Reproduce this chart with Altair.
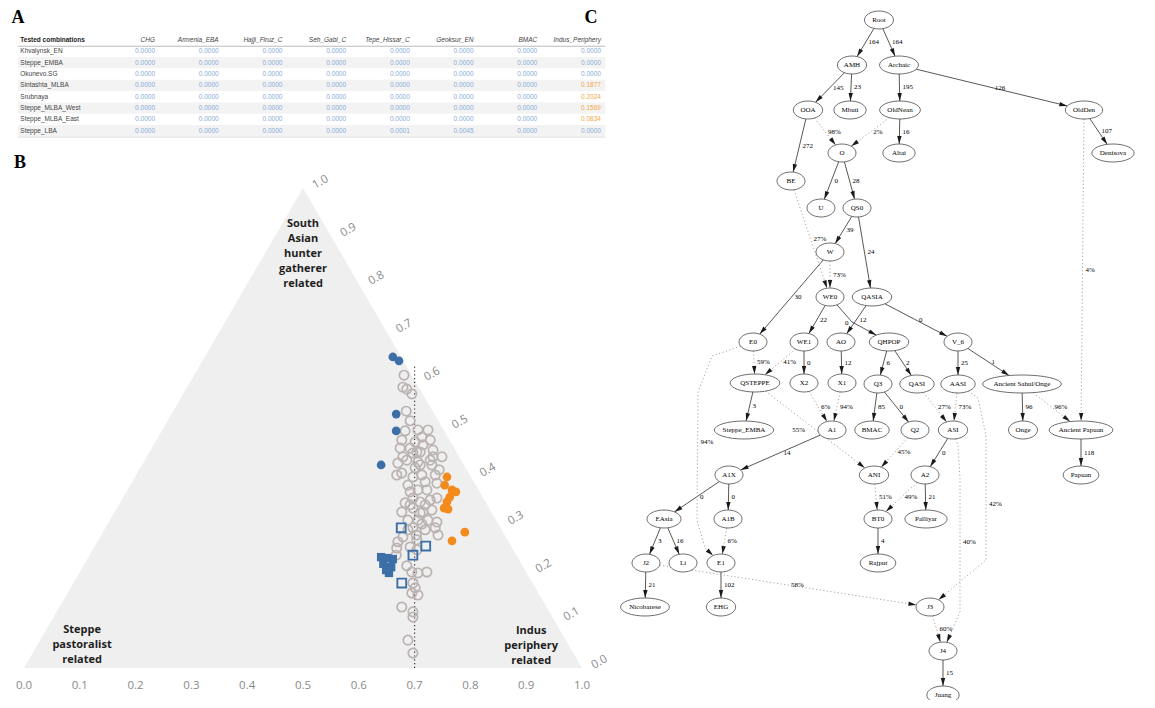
import math
import altair as alt
import pandas as pd

W, H = 1139, 692  # whole chart area (page margin 8px)

# ---------------- Panel A : table ----------------
tested = ["Khvalynsk_EN", "Steppe_EMBA", "Okunevo.SG", "Sintashta_MLBA", "Srubnaya",
          "Steppe_MLBA_West", "Steppe_MLBA_East", "Steppe_LBA"]
sources = ["CHG", "Armenia_EBA", "Hajji_Firuz_C", "Seh_Gabi_C", "Tepe_Hissar_C",
           "Geoksur_EN", "BMAC", "Indus_Periphery"]
v_chg = [0.0000, 0.0000, 0.0000, 0.0000, 0.0000, 0.0000, 0.0000, 0.0000]
v_armenia = [0.0000, 0.0000, 0.0000, 0.0000, 0.0000, 0.0000, 0.0000, 0.0000]
v_hajji = [0.0000, 0.0000, 0.0000, 0.0000, 0.0000, 0.0000, 0.0000, 0.0000]
v_sehgabi = [0.0000, 0.0000, 0.0000, 0.0000, 0.0000, 0.0000, 0.0000, 0.0000]
v_tepe = [0.0000, 0.0000, 0.0000, 0.0000, 0.0000, 0.0000, 0.0000, 0.0001]
v_geoksur = [0.0000, 0.0000, 0.0000, 0.0000, 0.0000, 0.0000, 0.0000, 0.0045]
v_bmac = [0.0000, 0.0000, 0.0000, 0.0000, 0.0000, 0.0000, 0.0000, 0.0000]
v_indus = [0.0000, 0.0000, 0.0000, 0.1877, 0.2024, 0.1569, 0.0834, 0.0000]
table_values = [v_chg, v_armenia, v_hajji, v_sehgabi, v_tepe, v_geoksur, v_bmac, v_indus]

# ---------------- Panel B : ternary plot ----------------
# x = position on the bottom axis, sahg = South Asian hunter gatherer fraction (right axis)
gray_x = [0.681, 0.679, 0.686, 0.695, 0.685, 0.692, 0.683, 0.677, 0.706, 0.724,
          0.713, 0.728, 0.701, 0.715, 0.674, 0.692, 0.704, 0.733, 0.749, 0.679,
          0.697, 0.710, 0.733, 0.686, 0.706, 0.731, 0.668, 0.677, 0.697, 0.713,
          0.737, 0.740, 0.688, 0.692, 0.706, 0.722, 0.697, 0.683, 0.710, 0.728,
          0.740, 0.677, 0.697, 0.715, 0.731, 0.688, 0.706, 0.724, 0.740, 0.697,
          0.719, 0.737, 0.679, 0.704, 0.742, 0.668, 0.692, 0.670, 0.686, 0.695,
          0.706, 0.722, 0.697, 0.701, 0.706, 0.695, 0.677, 0.697, 0.697, 0.688,
          0.697, 0.667, 0.704, 0.710, 0.719, 0.701, 0.719, 0.688, 0.710, 0.728,
          0.670, 0.692, 0.744, 0.713, 0.703]
gray_sahg = [0.610, 0.585, 0.581, 0.571, 0.535, 0.515, 0.494, 0.475, 0.496, 0.496,
             0.481, 0.475, 0.471, 0.465, 0.458, 0.458, 0.450, 0.454, 0.440, 0.440,
             0.448, 0.450, 0.440, 0.433, 0.429, 0.423, 0.402, 0.406, 0.398, 0.402,
             0.402, 0.385, 0.381, 0.367, 0.371, 0.371, 0.354, 0.344, 0.346, 0.350,
             0.354, 0.325, 0.333, 0.325, 0.329, 0.308, 0.308, 0.308, 0.304, 0.292,
             0.288, 0.292, 0.273, 0.267, 0.277, 0.250, 0.252, 0.263, 0.213, 0.200,
             0.198, 0.200, 0.177, 0.167, 0.152, 0.156, 0.127, 0.117, 0.106, 0.058,
             0.031, 0.235, 0.246, 0.423, 0.388, 0.417, 0.340, 0.288, 0.323, 0.433,
             0.427, 0.340, 0.413, 0.300, 0.277]
blue_dot_x = [0.661, 0.672, 0.667, 0.667, 0.640]
blue_dot_sahg = [0.648, 0.640, 0.529, 0.494, 0.423]
orange_x = [0.758, 0.754, 0.767, 0.774, 0.763, 0.758, 0.753, 0.760, 0.767, 0.790]
orange_sahg = [0.398, 0.381, 0.371, 0.367, 0.356, 0.346, 0.333, 0.331, 0.265, 0.283]
open_sq_x = [0.676, 0.720, 0.697, 0.677]
open_sq_sahg = [0.292, 0.254, 0.235, 0.177]
filled_sq_x = [0.640, 0.651, 0.661, 0.644, 0.649, 0.658, 0.654]
filled_sq_sahg = [0.231, 0.229, 0.227, 0.217, 0.204, 0.210, 0.198]
axis_ticks = [0.0, 0.1, 0.2, 0.3, 0.4, 0.5, 0.6, 0.7, 0.8, 0.9, 1.0]
corner_labels = ["South\nAsian\nhunter\ngatherer\nrelated",
                 "Steppe\npastoralist\nrelated",
                 "Indus\nperiphery\nrelated"]

# ---------------- Panel C : admixture graph ----------------
node_names = ["Root", "AMH", "Archaic", "OOA", "Mbuti", "OldNean", "OldDen", "O",
              "Altai", "Denisova", "BE", "U", "QS0", "W", "WE0", "QASIA", "E0", "WE1",
              "AO", "QHPOP", "V_6", "QSTEPPE", "X2", "X1", "Q3", "QASI", "AASI",
              "Ancient Sahul/Onge", "Steppe_EMBA", "A1", "BMAC", "Q2", "ASI", "Onge",
              "Ancient Papuan", "A1X", "ANI", "A2", "Papuan", "EAsia", "A1B", "BT0",
              "Palliyar", "J2", "Li", "E1", "Rajput", "Nicobarese", "EHG", "J3", "J4",
              "Juang"]
# graph layout (position of each node, in page pixels)
node_layout_x = [879, 852, 899, 808, 850, 900, 1084, 842, 899, 1113, 791, 821, 857,
                 830, 830, 872, 753, 804, 841, 889, 958, 755, 804, 842, 878, 917, 958,
                 1022, 744, 832, 872, 915, 953, 1023, 1081, 729, 874, 925, 1081, 664,
                 728, 878, 926, 646, 683, 721, 878, 645, 721, 930, 943, 943]
node_layout_y = [20, 65, 65, 110, 110, 110, 110, 153, 153, 153, 181, 208, 208, 252,
                 297, 297, 342, 342, 342, 342, 342, 383, 383, 383, 384, 384, 384, 384,
                 430, 430, 430, 430, 430, 430, 430, 475, 475, 475, 475, 519, 519, 519,
                 519, 563, 563, 563, 563, 607, 607, 607, 651, 695]
edge_from = ["Root", "Root", "AMH", "AMH", "Archaic", "Archaic", "OldNean", "OldDen",
             "OOA", "O", "O", "QS0", "QS0", "W", "WE0", "WE0", "QASIA", "QASIA", "WE1",
             "AO", "QHPOP", "QHPOP", "V_6", "V_6", "QSTEPPE", "Q3", "Q3",
             "Ancient Sahul/Onge", "Ancient Papuan", "A1", "ASI", "A1X", "A1X", "A2",
             "BT0", "EAsia", "EAsia", "J2", "E1", "J4",
             "OOA", "OldNean", "BE", "W", "E0", "WE1", "X2", "X1", "QASI", "AASI",
             "Ancient Sahul/Onge", "OldDen", "QSTEPPE", "Q2", "ANI", "A2", "E0", "A1B",
             "J2", "AASI", "ASI", "J3"]
edge_to = ["AMH", "Archaic", "OOA", "Mbuti", "OldNean", "OldDen", "Altai", "Denisova",
           "BE", "U", "QS0", "W", "QASIA", "E0", "WE1", "QHPOP", "AO", "V_6", "X2",
           "X1", "Q3", "QASI", "AASI", "Ancient Sahul/Onge", "Steppe_EMBA", "BMAC", "Q2",
           "Onge", "Papuan", "A1X", "A2", "EAsia", "A1B", "Palliyar", "Rajput", "J2",
           "Li", "Nicobarese", "EHG", "Juang",
           "O", "O", "WE0", "WE0", "QSTEPPE", "QSTEPPE", "A1", "A1", "ASI", "ASI",
           "Ancient Papuan", "Ancient Papuan", "ANI", "ANI", "BT0", "BT0", "E1", "E1",
           "J3", "J3", "J4", "J4"]
edge_label = ["164", "164", "145", "23", "195", "126", "16", "107", "272", "0", "28",
              "39", "24", "30", "22", "0", "12", "0", "0", "12", "6", "2", "25", "1",
              "3", "85", "0", "96", "118", "14", "0", "0", "0", "21", "4", "3", "16",
              "21", "102", "15",
              "98%", "2%", "27%", "73%", "59%", "41%", "6%", "94%", "27%", "73%", "96%",
              "4%", "55%", "45%", "51%", "49%", "94%", "6%", "58%", "42%", "40%", "60%"]
edge_kind = ["drift"] * 40 + ["admixture"] * 22
# routing points of the curved edges (page pixels)
edge_route = {("E0", "E1"): [(712, 356), (698, 392), (697, 520), (705, 548)],
              ("AASI", "J3"): [(978, 398), (986, 435), (986, 560)],
              ("ASI", "J4"): [(958, 446), (960, 478), (960, 612)],
              ("WE0", "QHPOP"): [(852, 322)]}
# labels placed on the left side of their edge (graphviz placement)
label_left = {("QSTEPPE", "ANI"): -26, ("WE0", "QHPOP"): -12, ("OOA", "BE"): 0}

# ====================================================================
# Panel A chart
tsx = alt.Scale(domain=[-1.3077, 16.573], nice=False, zero=False)
tsy = alt.Scale(domain=[-2.8194, 58.150], reverse=True, nice=False, zero=False)

cells = []
for ri, name in enumerate(tested, start=1):
    for ci, (src, vals) in enumerate(zip(sources, table_values), start=1):
        v = vals[ri - 1]
        cells.append({"r": ri, "c": ci, "txt": f"{v:.4f}",
                      "hi": "hi" if (src == "Indus_Periphery" and v > 0) else "lo"})
cells = pd.DataFrame(cells)
heads = pd.DataFrame({"c": list(range(1, 9)), "r": [0] * 8, "txt": sources})
rowlab = pd.DataFrame({"c": [0] * 8, "r": list(range(1, 9)), "txt": tested})
shade = pd.DataFrame({"x0": [-1.15] * 4, "x1": [8.07] * 4,
                      "y0": [1.5, 3.5, 5.5, 7.5], "y1": [2.5, 4.5, 6.5, 8.5]})
lines = pd.DataFrame({"x0": [-1.15, -1.15], "x1": [8.07, 8.07], "y": [0.55, 8.55],
                      "col": ["#bcbcbc", "#dedede"]})

tX = lambda f: alt.X(f, scale=tsx, axis=None)
tY = lambda f: alt.Y(f, scale=tsy, axis=None)

table = alt.layer(
    alt.Chart(shade).mark_rect(color="#f3f3f3").encode(
        x=tX("x0:Q"), x2="x1:Q", y=tY("y0:Q"), y2="y1:Q"),
    alt.Chart(lines).mark_rule(strokeWidth=1).encode(
        x=tX("x0:Q"), x2="x1:Q", y=tY("y:Q"),
        color=alt.Color("col:N", scale=None)),
    alt.Chart(pd.DataFrame({"c": [0], "r": [0], "txt": ["Tested combinations"]}))
    .mark_text(align="left", dx=-71, fontSize=6.5, fontWeight="bold",
               font="Liberation Sans", color="#222").encode(
        x=tX("c:Q"), y=tY("r:Q"), text="txt:N"),
    alt.Chart(heads).mark_text(align="right", fontSize=6.5, fontStyle="italic",
                               font="Liberation Sans", color="#444").encode(
        x=tX("c:Q"), y=tY("r:Q"), text="txt:N"),
    alt.Chart(rowlab).mark_text(align="left", dx=-71, fontSize=6.5,
                                font="Liberation Sans", color="#444").encode(
        x=tX("c:Q"), y=tY("r:Q"), text="txt:N"),
    alt.Chart(cells).mark_text(align="right", fontSize=6.5,
                               font="Liberation Sans").encode(
        x=tX("c:Q"), y=tY("r:Q"), text="txt:N",
        color=alt.Color("hi:N", scale=alt.Scale(domain=["lo", "hi"],
                                               range=["#86acd8", "#f3a646"]),
                        legend=None)),
)

# ====================================================================
# Panel B chart
bsx = alt.Scale(domain=[-16 / 558, (W - 16) / 558], nice=False, zero=False)
bsy = alt.Scale(domain=[-32 / 480, (H - 32) / 480], nice=False, zero=False)
bX = lambda f: alt.X(f, scale=bsx, axis=None)
bY = lambda f: alt.Y(f, scale=bsy, axis=None)

tri = pd.DataFrame({"x": [0.0, 0.5, 1.0], "s": [0.0, 1.0, 0.0], "s0": [0.0, 0.0, 0.0]})
guide = pd.DataFrame({"x": [0.7], "s0": [0.0], "s1": [0.63]})
bottom = pd.DataFrame({"x": axis_ticks, "s": [-0.0375] * len(axis_ticks),
                       "lab": [f"{t:.1f}" for t in axis_ticks]})
right = pd.DataFrame({"x": [1 - t / 2 for t in axis_ticks], "s": axis_ticks,
                      "lab": [f"{t:.1f}" for t in axis_ticks]})
corners = pd.DataFrame({"x": [0.5, 0.104, 0.909], "s": [0.9375, 0.092, 0.090],
                        "lab": corner_labels})

def pts(xs, ss):
    return pd.DataFrame({"x": xs, "s": ss})

ternary = alt.layer(
    alt.Chart(tri).mark_area(color="#efefef", opacity=1).encode(
        x=bX("x:Q"), y=bY("s:Q"), y2="s0:Q"),
    alt.Chart(guide).mark_rule(color="#333333", strokeDash=[1.2, 2.6],
                               strokeWidth=1.2).encode(
        x=bX("x:Q"), y=bY("s0:Q"), y2="s1:Q"),
    alt.Chart(pts(gray_x, gray_sahg)).mark_point(
        shape="circle", filled=False, size=88, strokeWidth=1.7,
        color="#bab3b1", opacity=1).encode(x=bX("x:Q"), y=bY("s:Q")),
    alt.Chart(pts(blue_dot_x, blue_dot_sahg)).mark_circle(
        size=76, color="#3c6fa7", opacity=1).encode(x=bX("x:Q"), y=bY("s:Q")),
    alt.Chart(pts(orange_x, orange_sahg)).mark_circle(
        size=76, color="#f28b1c", opacity=1).encode(x=bX("x:Q"), y=bY("s:Q")),
    alt.Chart(pts(filled_sq_x, filled_sq_sahg)).mark_square(
        size=70, color="#3c6fa7", opacity=1).encode(x=bX("x:Q"), y=bY("s:Q")),
    alt.Chart(pts(open_sq_x, open_sq_sahg)).mark_point(
        shape="square", filled=False, size=78, strokeWidth=1.9,
        color="#3c6fa7", opacity=1).encode(x=bX("x:Q"), y=bY("s:Q")),
    alt.Chart(bottom).mark_text(fontSize=11.5, font="Open Sans", color="#8a8a8a").encode(
        x=bX("x:Q"), y=bY("s:Q"), text="lab:N"),
    alt.Chart(right).mark_text(fontSize=11.5, font="Open Sans", color="#8a8a8a",
                               angle=330, dx=18, dy=4).encode(
        x=bX("x:Q"), y=bY("s:Q"), text="lab:N"),
    alt.Chart(corners).mark_text(fontSize=11, font="Open Sans", fontWeight="bold",
                                 color="#1e1e1e", lineBreak="\n", lineHeight=15,
                                 baseline="top").encode(
        x=bX("x:Q"), y=bY("s:Q"), text="lab:N"),
)

# ====================================================================
# Panel C chart
gsx = alt.Scale(domain=[8, 8 + W], nice=False, zero=False)
gsy = alt.Scale(domain=[8, 8 + H], reverse=True, nice=False, zero=False)
gX = lambda f: alt.X(f, scale=gsx, axis=None)
gY = lambda f: alt.Y(f, scale=gsy, axis=None)

B_HALF = 9.0
pos = {n: (x, y) for n, x, y in zip(node_names, node_layout_x, node_layout_y)}


def half_width(name):
    up = sum(ch.isupper() for ch in name)
    return max(28.0, 3.3 * len(name) + 1.8 * up + 14) / 2


def ellipse_path(k):
    p = []
    for i in range(32):
        t = 2 * math.pi * i / 32
        p.append(f"{k * math.cos(t):.4f},{math.sin(t):.4f}")
    return "M" + " L".join(p) + " Z"


def on_border(name, toward):
    cx, cy = pos[name]
    a = half_width(name)
    vx, vy = toward[0] - cx, toward[1] - cy
    s = 1 / math.sqrt((vx / a) ** 2 + (vy / B_HALF) ** 2)
    return cx + vx * s, cy + vy * s


nodes = pd.DataFrame({"name": node_names, "x": node_layout_x, "y": node_layout_y,
                      "path": [ellipse_path(half_width(n) / B_HALF) for n in node_names]})

seg_rows, arrow_rows, lab_rows = [], [], []
for k, (s, t, lab, kind) in enumerate(zip(edge_from, edge_to, edge_label, edge_kind)):
    via = edge_route.get((s, t), [])
    chain = [pos[s]] + via + [pos[t]]
    start = on_border(s, chain[1])
    end = on_border(t, chain[-2])
    poly = [start] + via + [end]
    for i, (px, py) in enumerate(poly):
        seg_rows.append({"e": k, "i": i, "x": px, "y": py, "kind": kind})
    # arrow head
    lx, ly = poly[-2]
    dx, dy = end[0] - lx, end[1] - ly
    L = math.hypot(dx, dy)
    ux, uy = dx / L, dy / L
    ang = math.degrees(math.atan2(ux, -uy)) % 360
    arrow_rows.append({"x": end[0] - 4 * ux, "y": end[1] - 4 * uy, "ang": ang})
    # label at half of the path length
    lens = [math.hypot(poly[i + 1][0] - poly[i][0], poly[i + 1][1] - poly[i][1])
            for i in range(len(poly) - 1)]
    half = sum(lens) / 2
    acc = 0
    for i, ln in enumerate(lens):
        if acc + ln >= half:
            f = (half - acc) / ln if ln else 0
            mx = poly[i][0] + f * (poly[i + 1][0] - poly[i][0])
            my = poly[i][1] + f * (poly[i + 1][1] - poly[i][1])
            break
        acc += ln
    lab_rows.append({"x": mx + label_left.get((s, t), 0), "y": my, "lab": lab})

segs = pd.DataFrame(seg_rows)
arrows = pd.DataFrame(arrow_rows)
elabs = pd.DataFrame(lab_rows)
letters = pd.DataFrame({"x": [18, 20, 591], "y": [9, 154, 9], "lab": ["A", "B", "C"]})

graph = alt.layer(
    alt.Chart(segs).transform_filter("datum.kind == 'drift'").mark_line(
        color="#3a3a3a", strokeWidth=0.85).encode(
        x=gX("x:Q"), y=gY("y:Q"), detail="e:N", order="i:Q"),
    alt.Chart(segs).transform_filter("datum.kind == 'admixture'").mark_line(
        color="#9a9a9a", strokeWidth=0.9, strokeDash=[1.2, 2.4]).encode(
        x=gX("x:Q"), y=gY("y:Q"), detail="e:N", order="i:Q"),
    alt.Chart(arrows).mark_point(shape="M0,-1 L0.55,1 L-0.55,1 Z", size=64,
                                 filled=True, color="#1a1a1a", opacity=1).encode(
        x=gX("x:Q"), y=gY("y:Q"), angle=alt.Angle("ang:Q", scale=None)),
    alt.Chart(nodes).mark_point(filled=True, fill="white", stroke="#4a4a4a",
                                strokeWidth=0.8, opacity=1, size=(2 * B_HALF) ** 2).encode(
        x=gX("x:Q"), y=gY("y:Q"), shape=alt.Shape("path:N", scale=None)),
    alt.Chart(nodes).mark_text(font="Liberation Serif", fontSize=7, color="#000000").encode(
        x=gX("x:Q"), y=gY("y:Q"), text="name:N"),
    alt.Chart(elabs).mark_text(font="Liberation Serif", fontSize=7, color="#000000",
                               align="left", dx=3).encode(
        x=gX("x:Q"), y=gY("y:Q"), text="lab:N"),
    alt.Chart(letters).mark_text(font="Liberation Serif", fontSize=18, fontWeight="bold",
                                 baseline="top", color="#000000").encode(
        x=gX("x:Q"), y=gY("y:Q"), text="lab:N"),
)

chart = alt.layer(table, ternary, graph).resolve_scale(
    x="independent", y="independent"
).properties(
    width=W, height=H, autosize=alt.AutoSizeParams(type="none"), padding=0,
    background="white"
).configure_view(stroke=None)

chart.save("out.html", embed_options={"renderer": "svg", "actions": False})
